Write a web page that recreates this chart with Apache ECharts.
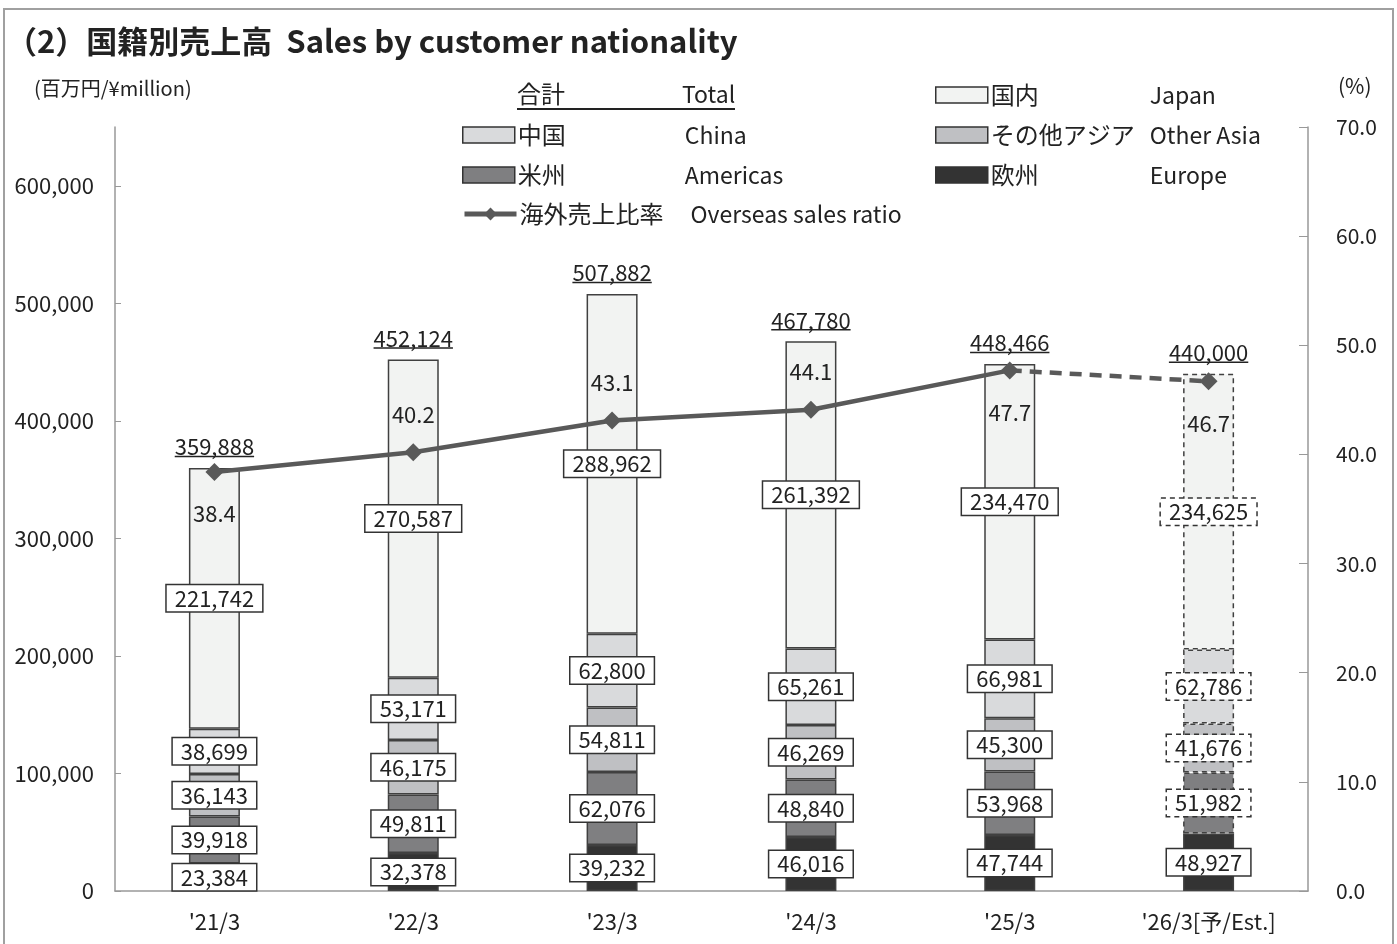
<!DOCTYPE html>
<html>
<head>
<meta charset="utf-8">
<script src="https://cdn.jsdelivr.net/npm/echarts@6/dist/echarts.min.js"></script>
<style>
  html, body { margin: 0; padding: 0; background: #fff; }
  #main { width: 1397px; height: 944px; }
</style>
</head>
<body>
<div id="main"></div>
<script>
var FONT = '"Noto Sans CJK JP", "Noto Sans", sans-serif';

var years = ["'21/3", "'22/3", "'23/3", "'24/3", "'25/3", "'26/3[予/Est.]"];
var europe = [23384, 32378, 39232, 46016, 47744, 48927];
var americas = [39918, 49811, 62076, 48840, 53968, 51982];
var otherAsia = [36143, 46175, 54811, 46269, 45300, 41676];
var china = [38699, 53171, 62800, 65261, 66981, 62786];
var japan = [221742, 270587, 288962, 261392, 234470, 234625];
var totals = [359888, 452124, 507882, 467780, 448466, 440000];
var ratio = [38.4, 40.2, 43.1, 44.1, 47.7, 46.7];
var ratioPos = ['bottom', 'top', 'top', 'top', 'bottom', 'bottom'];

var chart = echarts.init(document.getElementById('main'));

function fmt(v) {
  return Number(v).toLocaleString('en-US');
}

var measureCtx = document.createElement('canvas').getContext('2d');
measureCtx.font = '22px ' + FONT;

var labelBox = {
  show: true,
  position: 'inside',
  color: '#222',
  fontSize: 22,
  fontFamily: FONT,
  backgroundColor: '#fff',
  borderColor: '#333',
  borderWidth: 1.5,
  padding: [3, 8, 1, 8],
  formatter: function (p) { return fmt(p.value); }
};

// last bar (forecast) drawn with dashed outlines
function barData(values, dashed) {
  return values.map(function (v, i) {
    if (i < values.length - 1 || !dashed) return v;
    return { value: v, itemStyle: { borderType: [5, 4] }, label: { borderType: [5, 4] } };
  });
}

function barSeries(name, values, color, dashed) {
  return {
    name: name,
    type: 'bar',
    stack: 'sales',
    barWidth: 51,
    itemStyle: { color: color, borderColor: '#404040', borderWidth: 1.5 },
    label: labelBox,
    data: barData(values, dashed),
    z: 2
  };
}

function legendItem(name, en, left, top, w, isLine) {
  var lg = {
    data: [name],
    left: left,
    top: top,
    itemWidth: 52,
    itemHeight: 16,
    itemGap: 0,
    selectedMode: false,
    padding: 0,
    formatter: function (n) { return '{a|' + n + '}{b|' + en + '}'; },
    textStyle: {
      padding: [0, 0, 0, -2],
      rich: {
        a: { fontSize: 24, fontFamily: FONT, color: '#222', width: w, height: 28 },
        b: { fontSize: 23, fontFamily: FONT, color: '#222', height: 28 }
      }
    }
  };
  if (isLine) {
    lg.lineStyle = { width: 5 };
  } else {
    lg.icon = 'rect';
    lg.itemStyle = { borderColor: '#333', borderWidth: 1.5 };
  }
  return lg;
}

var option = {
  backgroundColor: '#fff',
  animation: false,
  textStyle: { fontFamily: FONT },
  grid: { left: 115, right: 89, top: 127, bottom: 53, containLabel: false },
  legend: [
    legendItem('中国', 'China', 462, 123, 167),
    legendItem('米州', 'Americas', 462, 163, 167),
    legendItem('海外売上比率', 'Overseas sales ratio', 462, 202, 171, true),
    legendItem('国内', 'Japan', 935, 83, 159),
    legendItem('その他アジア', 'Other Asia', 935, 123, 159),
    legendItem('欧州', 'Europe', 935, 163, 159)
  ],
  graphic: [
    { type: 'rect', shape: { x: 4, y: 9, width: 1389, height: 945 }, style: { fill: 'none', stroke: '#a0a0a0', lineWidth: 2 }, silent: true },
    { type: 'text', left: 6, top: 26, style: { text: '（2）国籍別売上高  Sales by customer nationality', font: 'bold 31px ' + FONT, fill: '#222' } },
    { type: 'text', left: 34, top: 78, style: { text: '(百万円/¥million)', font: '20px ' + FONT, fill: '#222' } },
    { type: 'text', left: 1338, top: 76, style: { text: '(%)', font: '21px ' + FONT, fill: '#222' } },
    { type: 'text', left: 517, top: 82, style: { text: '合計', font: '24px ' + FONT, fill: '#222' } },
    { type: 'text', left: 682, top: 83, style: { text: 'Total', font: '23px ' + FONT, fill: '#222' } },
    { type: 'line', shape: { x1: 517, y1: 109, x2: 735, y2: 109 }, style: { stroke: '#222', lineWidth: 2 } }
  ],
  xAxis: {
    type: 'category',
    data: years,
    axisLine: { lineStyle: { color: '#999', width: 1.5 } },
    axisTick: { show: false },
    axisLabel: { fontSize: 22, color: '#222', margin: 20, fontFamily: FONT }
  },
  yAxis: [{
    type: 'value',
    min: 0,
    max: 650000,
    interval: 100000,
    axisLine: { show: true, lineStyle: { color: '#999', width: 1.5 } },
    axisTick: { show: true, inside: true, length: 6, lineStyle: { color: '#999' } },
    splitLine: { show: false },
    axisLabel: { showMaxLabel: false, fontSize: 22, color: '#222', margin: 21, fontFamily: FONT, formatter: function (v) { return fmt(v); } }
  }, {
    type: 'value',
    min: 0,
    max: 70,
    interval: 10,
    axisLine: { show: true, lineStyle: { color: '#999', width: 1.5 } },
    axisTick: { show: true, inside: true, length: 9, lineStyle: { color: '#999' } },
    splitLine: { show: false },
    axisLabel: { fontSize: 21, color: '#222', margin: 28, fontFamily: FONT, formatter: function (v) { return v.toFixed(1); } }
  }],
  series: [
    barSeries('欧州', europe, '#333333', false),
    barSeries('米州', americas, '#7f7f81', true),
    barSeries('その他アジア', otherAsia, '#bfc0c3', true),
    barSeries('中国', china, '#d9dadc', true),
    barSeries('国内', japan, '#f2f3f2', true),
    {
      name: 'total',
      type: 'custom',
      data: totals.map(function (v, i) { return [i, v]; }),
      z: 5,
      renderItem: function (params, api) {
        var p = api.coord([api.value(0), api.value(1)]);
        var txt = fmt(api.value(1));
        var w = measureCtx.measureText(txt).width;
        return {
          type: 'group',
          children: [{
            type: 'text',
            style: { x: p[0], y: p[1] - 10, text: txt, align: 'center', verticalAlign: 'bottom', font: '22px ' + FONT, fill: '#222' }
          }, {
            type: 'line',
            shape: { x1: p[0] - w / 2, y1: p[1] - 11.5, x2: p[0] + w / 2, y2: p[1] - 11.5 },
            style: { stroke: '#222', lineWidth: 1.5 }
          }]
        };
      }
    },
    {
      name: '海外売上比率',
      type: 'line',
      yAxisIndex: 1,
      symbol: 'diamond',
      symbolSize: 18,
      color: '#595959',
      lineStyle: { color: '#595959', width: 4.5 },
      itemStyle: { color: '#595959' },
      z: 4,
      data: ratio.map(function (v, i) {
        if (i === ratio.length - 1) return { value: null };
        return { value: v, label: { position: ratioPos[i], distance: ratioPos[i] === 'top' ? 18 : 22 } };
      }),
      label: { show: true, fontSize: 22, color: '#222', fontFamily: FONT, formatter: function (p) { return p.value.toFixed(1); } }
    },
    {
      name: '見込',
      type: 'line',
      yAxisIndex: 1,
      symbol: 'diamond',
      symbolSize: 18,
      lineStyle: { color: '#595959', width: 4.5, type: [12, 8] },
      itemStyle: { color: '#595959' },
      z: 4,
      data: ratio.map(function (v, i) {
        if (i < ratio.length - 2) return { value: null };
        if (i === ratio.length - 2) return { value: v, symbol: 'none' };
        return { value: v, label: { show: true, position: 'bottom', distance: 22 } };
      }),
      label: { show: false, fontSize: 22, color: '#222', fontFamily: FONT, formatter: function (p) { return p.value.toFixed(1); } }
    }
  ]
};

chart.setOption(option);
</script>
</body>
</html>
